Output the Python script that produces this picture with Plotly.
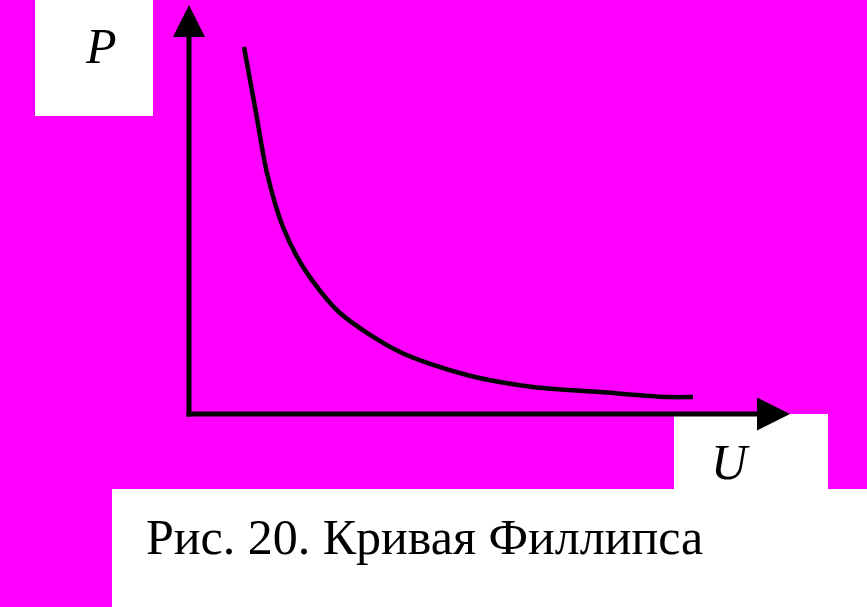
import plotly.graph_objects as go

# Phillips curve (schematic): unemployment U vs inflation P, arbitrary units
U_values = [1.10, 1.32, 1.56, 1.88, 2.32, 3.02, 4.22, 5.56, 6.88, 8.22, 9.56, 10.08]
P_values = [7.34, 6.14, 4.82, 3.74, 2.88, 2.02, 1.24, 0.78, 0.54, 0.44, 0.34, 0.34]
x_label = "U"
y_label = "P"
caption = "Рис. 20. Кривая Филлипса"

W, H = 867, 607
MAGENTA = "#FF00FF"

fig = go.Figure()
fig.add_trace(go.Scatter(x=U_values, y=P_values, mode="lines",
                         line=dict(color="black", width=4.5, shape="spline", smoothing=0.8),
                         hoverinfo="skip", showlegend=False))

shapes = []
# white boxes (paper coords)
def box(x0, y0, x1, y1):
    return dict(type="rect", xref="paper", yref="paper",
                x0=x0 / W, x1=x1 / W, y0=1 - y1 / H, y1=1 - y0 / H,
                fillcolor="white", line=dict(width=0), layer="below")
shapes += [box(35, 0, 153, 116), box(674, 414, 828, 489), box(112, 489, 867, 607)]

# axes with arrow heads (data coords)
shapes += [
    dict(type="line", xref="x", yref="y", x0=0, y0=-0.05, x1=0, y1=7.6,
         line=dict(color="black", width=5), layer="above"),
    dict(type="path", xref="x", yref="y", path="M -0.32,7.54 L 0.32,7.54 L 0,8.18 Z",
         fillcolor="black", line=dict(width=0), layer="above"),
    dict(type="line", xref="x", yref="y", x0=-0.05, y0=0, x1=11.4, y1=0,
         line=dict(color="black", width=5), layer="above"),
    dict(type="path", xref="x", yref="y", path="M 11.36,-0.33 L 11.36,0.33 L 12.02,0 Z",
         fillcolor="black", line=dict(width=0), layer="above"),
]

annotations = [
    dict(text=f"<i>{y_label}</i>", x=101 / W, y=1 - 46 / H, xref="paper", yref="paper",
         xanchor="center", yanchor="middle", showarrow=False,
         font=dict(family="Liberation Serif", size=50, color="black")),
    dict(text=f"<i>{x_label}</i>", x=730 / W, y=1 - 462 / H, xref="paper", yref="paper",
         xanchor="center", yanchor="middle", showarrow=False,
         font=dict(family="Liberation Serif", size=50, color="black")),
    dict(text=caption, x=424 / W, y=1 - 537 / H, xref="paper", yref="paper",
         xanchor="center", yanchor="middle", showarrow=False,
         font=dict(family="Liberation Serif", size=50, color="black")),
]

fig.update_layout(
    width=W, height=H,
    margin=dict(l=0, r=0, t=0, b=0),
    paper_bgcolor=MAGENTA, plot_bgcolor="rgba(0,0,0,0)",
    xaxis=dict(range=[-3.78, 13.56], visible=False, fixedrange=True),
    yaxis=dict(range=[-3.86, 8.28], visible=False, fixedrange=True),
    shapes=shapes, annotations=annotations,
    showlegend=False,
)

fig.write_html(
    "out.html",
    config={"displayModeBar": False},
    post_script="document.body.style.margin='0';document.body.style.overflow='hidden';"
                "document.body.style.background='#FF00FF';",
)
